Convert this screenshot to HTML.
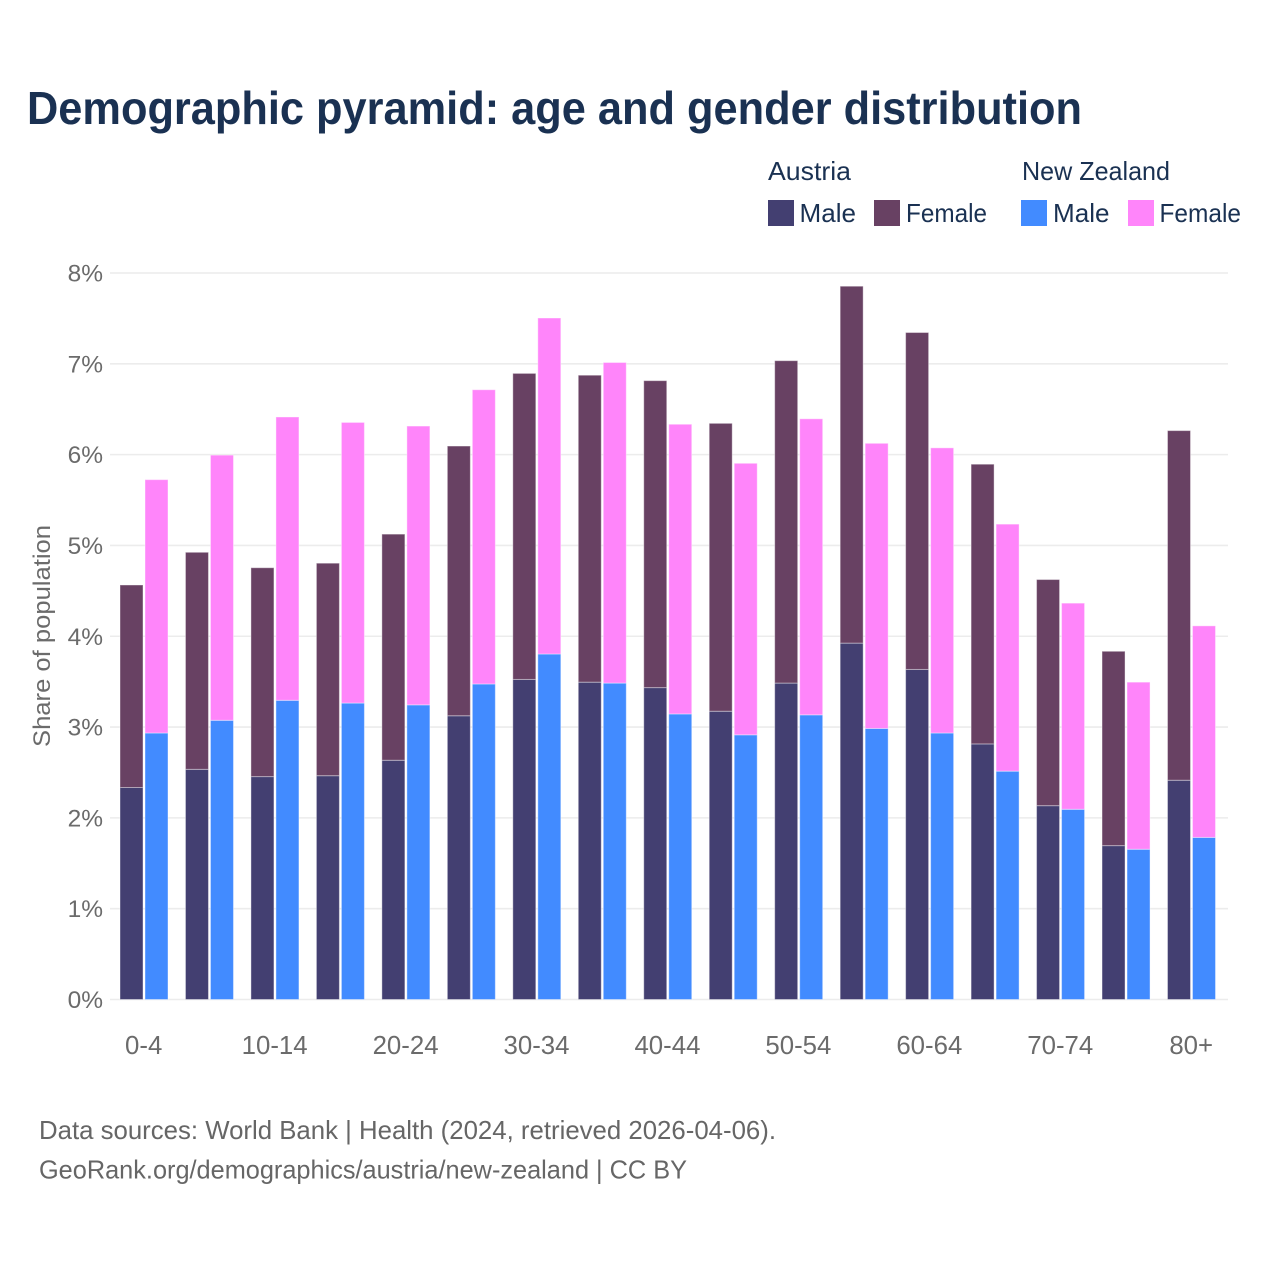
<!DOCTYPE html>
<html lang="en">
<head>
<meta charset="utf-8">
<title>Demographic pyramid: age and gender distribution</title>
<style>
html,body{margin:0;padding:0;background:#fff;}
svg{display:block;}
text{font-family:"Liberation Sans",sans-serif;}
</style>
</head>
<body>
<svg id="chart" xmlns="http://www.w3.org/2000/svg" width="1280" height="1280" viewBox="0 0 1280 1280">
  <rect x="0" y="0" width="1280" height="1280" fill="#ffffff"/>
  <text x="27" y="124" font-size="46" font-weight="700" fill="#1a3152" textLength="1055" lengthAdjust="spacingAndGlyphs">Demographic pyramid: age and gender distribution</text>

  <g font-size="26" fill="#1a3152">
    <text x="768" y="180" textLength="83" lengthAdjust="spacingAndGlyphs">Austria</text>
    <text x="1022" y="180" textLength="148" lengthAdjust="spacingAndGlyphs">New Zealand</text>
    <rect x="768" y="200" width="26" height="26" fill="#433f71"/>
    <text x="799.5" y="222" textLength="56.5" lengthAdjust="spacingAndGlyphs">Male</text>
    <rect x="874" y="200" width="26" height="26" fill="#684163"/>
    <text x="906" y="222" textLength="81" lengthAdjust="spacingAndGlyphs">Female</text>
    <rect x="1021" y="200" width="26" height="26" fill="#428bff"/>
    <text x="1053" y="222" textLength="56.5" lengthAdjust="spacingAndGlyphs">Male</text>
    <rect x="1128" y="200" width="26" height="26" fill="#ff85fa"/>
    <text x="1159.5" y="222" textLength="81.5" lengthAdjust="spacingAndGlyphs">Female</text>
  </g>

  <g id="grid"></g>
  <g id="bars"></g>
  <g id="yticks"></g>
  <g id="xticks"></g>

  <text transform="translate(50,636) rotate(-90)" text-anchor="middle" font-size="24" fill="#6b6b6b" textLength="222" lengthAdjust="spacingAndGlyphs">Share of population</text>

  <text x="39" y="1139" font-size="26" fill="#666666" textLength="737" lengthAdjust="spacingAndGlyphs">Data sources: World Bank | Health (2024, retrieved 2026-04-06).</text>
  <text x="39" y="1178.5" font-size="26" fill="#666666" textLength="648" lengthAdjust="spacingAndGlyphs">GeoRank.org/demographics/austria/new-zealand | CC BY</text>
</svg>
<script>
const categories = ["0-4","5-9","10-14","15-19","20-24","25-29","30-34","35-39","40-44","45-49","50-54","55-59","60-64","65-69","70-74","75-79","80+"];
const austriaMale = [2.34,2.54,2.46,2.47,2.64,3.13,3.53,3.50,3.44,3.18,3.49,3.93,3.64,2.82,2.14,1.70,2.42];
const austriaFemale = [2.23,2.39,2.30,2.34,2.49,2.97,3.37,3.38,3.38,3.17,3.55,3.93,3.71,3.08,2.49,2.14,3.85];
const newZealandMale = [2.94,3.08,3.30,3.27,3.25,3.48,3.81,3.49,3.15,2.92,3.14,2.99,2.94,2.52,2.10,1.66,1.79];
const newZealandFemale = [2.79,2.92,3.12,3.09,3.07,3.24,3.70,3.53,3.19,2.99,3.26,3.14,3.14,2.72,2.27,1.84,2.33];
const yTickValues = [0,1,2,3,4,5,6,7,8];
const xTickLabels = ["0-4","","10-14","","20-24","","30-34","","40-44","","50-54","","60-64","","70-74","","80+"];

const NS = "http://www.w3.org/2000/svg";
function yScale(v){ return 999.5 - v * (999.5 - 273) / 8; }
function groupLeft(i){ return 120 + i * (1167.5 - 120) / 16; }
const barWidth = 23;
const seriesGap = 25;

function make(tag, attrs, parent){
  const el = document.createElementNS(NS, tag);
  for (const k in attrs) el.setAttribute(k, attrs[k]);
  parent.appendChild(el);
  return el;
}

const grid = document.getElementById("grid");
const yticks = document.getElementById("yticks");
yTickValues.forEach(function(v){
  const line = make("line", {x1:110, x2:1228, y1:yScale(v), y2:yScale(v), stroke:"#ececec", "stroke-width": 1.6}, grid);
  
  
  const t = make("text", {x:103, y:yScale(v)+8.5, "text-anchor":"end", "font-size":24.5, fill:"#6b6b6b"}, yticks);
  t.textContent = v + "%";
  
  
});

const bars = document.getElementById("bars");
function drawBar(x, base, value, color){
  const yTop = yScale(base + value) + 0.5;
  const yBottom = yScale(base) + (base === 0 ? 0 : 0.5);
  const r = make("rect", {x:x, y:yTop, width:barWidth, height:yBottom-yTop, fill:color, stroke:"#ffffff", "stroke-opacity":0.4, "stroke-width":1}, bars);
  return r;
}
categories.forEach(function(c, i){
  const x0 = groupLeft(i);
  const x1 = x0 + seriesGap;
  const a = drawBar(x0, 0, austriaMale[i], "#433f71");
  
  
  const b = drawBar(x0, austriaMale[i], austriaFemale[i], "#684163");
  
  
  const d = drawBar(x1, 0, newZealandMale[i], "#428bff");
  
  
  const e = drawBar(x1, newZealandMale[i], newZealandFemale[i], "#ff85fa");
  
  
});

const xticks = document.getElementById("xticks");
xTickLabels.forEach(function(label, i){
  if (!label) return;
  const t = make("text", {x:groupLeft(i)+23.7, y:1054, "text-anchor":"middle", "font-size":25.8, fill:"#6b6b6b"}, xticks);
  t.textContent = label;
  
  
});
</script>
</body>
</html>
